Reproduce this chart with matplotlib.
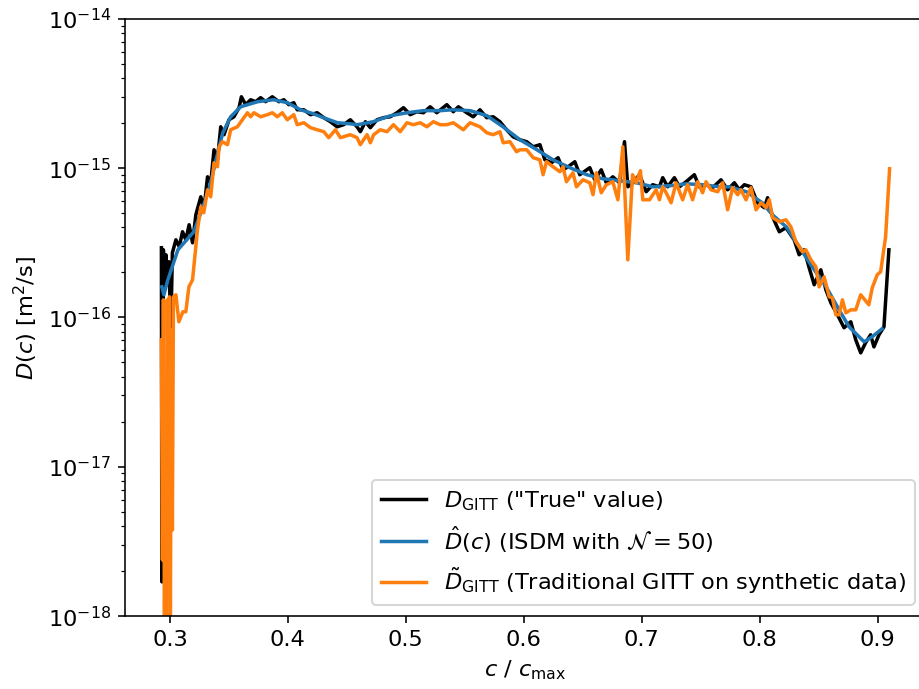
import numpy as np
import matplotlib
matplotlib.use("Agg")
import matplotlib.pyplot as plt

# concentration c/c_max and log10 of D [m^2/s]
c_true = [0.2928, 0.2932, 0.2937, 0.2941, 0.2945, 0.2954, 0.2966, 0.2979, 0.2992, 0.3008,
          0.3021, 0.3051, 0.3079, 0.3107, 0.3135, 0.3163, 0.3192, 0.3220, 0.3262, 0.3290,
          0.3319, 0.3346, 0.3374, 0.3403, 0.3431, 0.3459, 0.3501, 0.3543, 0.3586, 0.3606,
          0.3642, 0.3684, 0.3727, 0.3769, 0.3811, 0.3868, 0.3924, 0.3966, 0.4008, 0.4050,
          0.4079, 0.4135, 0.4192, 0.4248, 0.4304, 0.4360, 0.4417, 0.4473, 0.4529, 0.4586,
          0.4614, 0.4657, 0.4699, 0.4755, 0.4811, 0.4868, 0.4924, 0.4980, 0.5037, 0.5094,
          0.5149, 0.5206, 0.5262, 0.5347, 0.5402, 0.5445, 0.5516, 0.5571, 0.5628, 0.5685,
          0.5740, 0.5797, 0.5854, 0.5909, 0.5967, 0.6024, 0.6079, 0.6136, 0.6178, 0.6234,
          0.6290, 0.6332, 0.6375, 0.6432, 0.6474, 0.6559, 0.6601, 0.6656, 0.6699, 0.6754,
          0.6811, 0.6853, 0.6881, 0.6923, 0.6980, 0.7037, 0.7092, 0.7149, 0.7177, 0.7219,
          0.7276, 0.7318, 0.7375, 0.7445, 0.7487, 0.7544, 0.7600, 0.7671, 0.7727, 0.7784,
          0.7826, 0.7869, 0.7925, 0.7981, 0.8038, 0.8066, 0.8108, 0.8165, 0.8221, 0.8291,
          0.8333, 0.8376, 0.8418, 0.8461, 0.8517, 0.8560, 0.8602, 0.8658, 0.8714, 0.8771,
          0.8813, 0.8855, 0.8896, 0.8939, 0.8967, 0.9010, 0.9052, 0.9094]
logD_true = [-15.534, -17.772, -15.581, -17.223, -15.548, -15.816, -15.581, -15.749, -15.628, -16.084,
             -15.568, -15.481, -15.528, -15.427, -15.481, -15.380, -15.501, -15.313, -15.193, -15.266,
             -15.059, -15.099, -14.878, -14.945, -14.724, -14.777, -14.677, -14.657, -14.596, -14.523,
             -14.576, -14.543, -14.556, -14.529, -14.556, -14.523, -14.556, -14.543, -14.576, -14.563,
             -14.610, -14.610, -14.643, -14.630, -14.663, -14.690, -14.724, -14.710, -14.677, -14.724,
             -14.757, -14.690, -14.730, -14.677, -14.663, -14.657, -14.630, -14.596, -14.643, -14.623,
             -14.630, -14.590, -14.630, -14.576, -14.623, -14.590, -14.630, -14.657, -14.610, -14.663,
             -14.657, -14.690, -14.744, -14.791, -14.811, -14.824, -14.858, -14.844, -14.945, -14.965,
             -14.931, -15.012, -14.992, -14.958, -15.045, -14.998, -15.079, -15.012, -15.099, -15.059,
             -15.099, -14.824, -15.126, -15.099, -15.045, -15.159, -15.112, -15.126, -15.065, -15.126,
             -15.065, -15.126, -15.092, -15.045, -15.126, -15.112, -15.132, -15.079, -15.146, -15.099,
             -15.146, -15.112, -15.126, -15.233, -15.266, -15.199, -15.327, -15.427, -15.400, -15.481,
             -15.581, -15.548, -15.668, -15.782, -15.682, -15.816, -15.903, -15.983, -16.070, -16.030,
             -16.151, -16.238, -16.171, -16.117, -16.198, -16.117, -16.064, -15.548]

c_isdm = [0.2932, 0.2949, 0.2983, 0.3068, 0.3203, 0.3262, 0.3330, 0.3406, 0.3448, 0.3515,
          0.3600, 0.3744, 0.3879, 0.3997, 0.4107, 0.4217, 0.4301, 0.4420, 0.4530, 0.4589,
          0.4724, 0.4868, 0.5012, 0.5147, 0.5291, 0.5400, 0.5544, 0.5688, 0.5823, 0.5967,
          0.6111, 0.6246, 0.6390, 0.6533, 0.6669, 0.6812, 0.6956, 0.7091, 0.7235, 0.7379,
          0.7514, 0.7658, 0.7742, 0.7886, 0.8021, 0.8106, 0.8224, 0.8334, 0.8444, 0.8562,
          0.8672, 0.8757, 0.8884, 0.8951, 0.9036]
logD_isdm = [-15.796, -15.849, -15.749, -15.548, -15.427, -15.300, -15.146, -14.898, -14.764, -14.657,
             -14.590, -14.556, -14.543, -14.563, -14.610, -14.637, -14.663, -14.697, -14.704, -14.710,
             -14.690, -14.650, -14.630, -14.616, -14.616, -14.610, -14.616, -14.650, -14.724, -14.811,
             -14.878, -14.945, -14.998, -15.045, -15.072, -15.085, -15.099, -15.126, -15.119, -15.106,
             -15.112, -15.126, -15.126, -15.159, -15.233, -15.313, -15.394, -15.528, -15.662, -15.796,
             -15.950, -16.064, -16.164, -16.131, -16.077]

c_gitt = [0.2928, 0.2937, 0.2945, 0.2954, 0.2962, 0.2970, 0.2979, 0.2987, 0.2996, 0.3004,
          0.3013, 0.3021, 0.3030, 0.3051, 0.3076, 0.3110, 0.3135, 0.3161, 0.3192, 0.3234,
          0.3262, 0.3287, 0.3319, 0.3346, 0.3374, 0.3403, 0.3417, 0.3445, 0.3488, 0.3515,
          0.3572, 0.3614, 0.3657, 0.3684, 0.3712, 0.3769, 0.3826, 0.3868, 0.3910, 0.3952,
          0.3995, 0.4050, 0.4079, 0.4135, 0.4192, 0.4248, 0.4304, 0.4346, 0.4403, 0.4445,
          0.4529, 0.4586, 0.4614, 0.4671, 0.4699, 0.4727, 0.4783, 0.4840, 0.4895, 0.4952,
          0.5009, 0.5064, 0.5122, 0.5178, 0.5233, 0.5290, 0.5347, 0.5402, 0.5487, 0.5544,
          0.5628, 0.5685, 0.5740, 0.5797, 0.5825, 0.5882, 0.5938, 0.5967, 0.6024, 0.6079,
          0.6136, 0.6163, 0.6192, 0.6248, 0.6305, 0.6332, 0.6361, 0.6416, 0.6446, 0.6501,
          0.6559, 0.6586, 0.6615, 0.6656, 0.6699, 0.6754, 0.6797, 0.6839, 0.6881, 0.6921,
          0.6952, 0.6988, 0.7008, 0.7065, 0.7121, 0.7149, 0.7177, 0.7206, 0.7248, 0.7290,
          0.7346, 0.7388, 0.7430, 0.7473, 0.7515, 0.7544, 0.7586, 0.7643, 0.7685, 0.7727,
          0.7769, 0.7812, 0.7840, 0.7883, 0.7925, 0.7968, 0.8010, 0.8052, 0.8080, 0.8108,
          0.8165, 0.8221, 0.8263, 0.8306, 0.8362, 0.8390, 0.8433, 0.8475, 0.8503, 0.8545,
          0.8588, 0.8615, 0.8644, 0.8672, 0.8700, 0.8729, 0.8771, 0.8813, 0.8855, 0.8924,
          0.8953, 0.8995, 0.9024, 0.9066, 0.9100]
logD_gitt = [-16.151, -17.625, -15.883, -18.161, -16.687, -18.161, -15.883, -17.357, -15.863, -18.027,
             -16.084, -17.424, -15.863, -15.849, -16.030, -15.963, -15.963, -15.796, -15.749, -15.414,
             -15.260, -15.300, -15.146, -15.193, -14.965, -14.992, -14.858, -14.824, -14.844, -14.744,
             -14.724, -14.677, -14.630, -14.657, -14.630, -14.657, -14.643, -14.630, -14.657, -14.630,
             -14.677, -14.643, -14.710, -14.697, -14.730, -14.744, -14.757, -14.797, -14.744, -14.797,
             -14.777, -14.797, -14.844, -14.777, -14.831, -14.777, -14.744, -14.757, -14.710, -14.757,
             -14.697, -14.710, -14.697, -14.724, -14.690, -14.710, -14.710, -14.697, -14.744, -14.697,
             -14.724, -14.764, -14.777, -14.757, -14.831, -14.824, -14.891, -14.878, -14.878, -14.931,
             -14.945, -15.045, -14.958, -14.992, -15.025, -14.992, -15.092, -15.032, -15.126, -15.079,
             -15.099, -15.179, -15.032, -15.166, -15.112, -15.092, -15.213, -14.858, -15.615, -15.045,
             -15.099, -15.018, -15.213, -15.213, -15.146, -15.213, -15.126, -15.166, -15.233, -15.099,
             -15.213, -15.112, -15.213, -15.092, -15.166, -15.092, -15.146, -15.159, -15.099, -15.280,
             -15.132, -15.179, -15.146, -15.213, -15.132, -15.280, -15.233, -15.266, -15.213, -15.333,
             -15.360, -15.347, -15.394, -15.494, -15.561, -15.548, -15.615, -15.662, -15.796, -15.729,
             -15.863, -15.869, -15.983, -15.983, -15.883, -15.970, -15.950, -15.950, -15.849, -15.916,
             -15.802, -15.715, -15.695, -15.461, -15.005]

D_true = 10.0 ** np.array(logD_true)
D_isdm = 10.0 ** np.array(logD_isdm)
D_gitt = 10.0 ** np.array(logD_gitt)

plt.rcParams["font.size"] = 11.3
plt.rcParams["lines.linewidth"] = 1.75

fig = plt.figure(figsize=(6.4, 4.8), dpi=143.6)
ax = fig.add_axes([0.1360, 0.1060, 0.8716, 0.8665])

ax.plot(c_true, D_true, color="black", label=r'$D_{\mathrm{GITT}}$ ("True" value)')
ax.plot(c_isdm, D_isdm, color="tab:blue", label=r'$\hat{D}(c)$ (ISDM with $\mathcal{N}=50$)')
ax.plot(c_gitt, D_gitt, color="tab:orange",
        label=r'$\tilde{D}_{\mathrm{GITT}}$ (Traditional GITT on synthetic data)')

ax.set_yscale("log")
ax.set_ylim(1e-18, 1e-14)
ax.set_xlabel(r'$c$ / $c_{\mathrm{max}}$')
ax.set_ylabel(r'$D(c)$ [m$^2$/s]')
ax.legend(loc="lower right")

fig.savefig("out.png", dpi=143.6)
